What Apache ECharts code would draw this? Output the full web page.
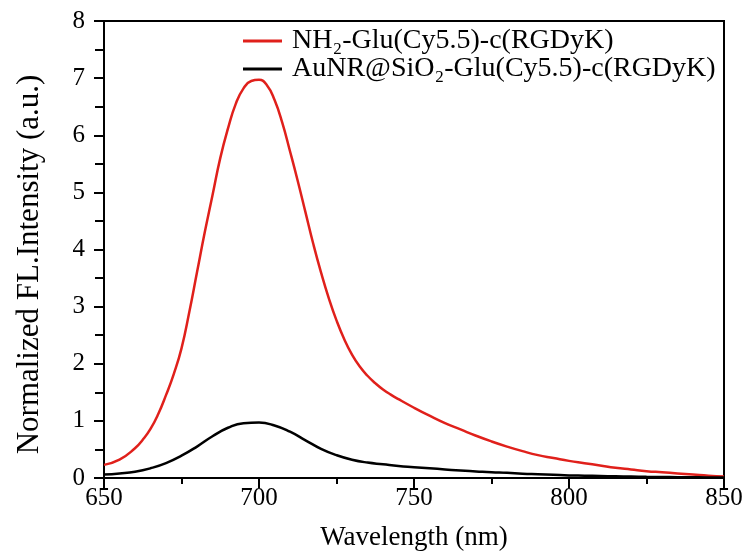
<!DOCTYPE html>
<html>
<head>
<meta charset="utf-8">
<script src="https://cdn.jsdelivr.net/npm/echarts@6/dist/echarts.min.js"></script>
<style>html,body{margin:0;padding:0;background:#fff}#c{width:743px;height:556px}</style>
</head>
<body>
<div id="c"></div>
<script>
const redWavelengths = [650,655,660,662.5,665,667.5,670,672.5,675,677.5,680,682.5,685,687.5,690,692.5,695,697.5,700,702.5,705,707.5,710,712.5,715,717.5,720,722.5,725,727.5,730,732.5,735,737.5,740,742.5,745,750,755,760,765,770,775,780,785,790,795,800,805,810,815,820,825,830,835,840,845,850];
const freeProbe = [0.23,0.32,0.52,0.67,0.86,1.12,1.45,1.82,2.27,2.9,3.6,4.3,4.95,5.6,6.12,6.55,6.82,6.95,6.97,6.88,6.62,6.22,5.72,5.2,4.65,4.1,3.6,3.15,2.76,2.43,2.16,1.95,1.79,1.66,1.55,1.46,1.38,1.23,1.09,0.96,0.85,0.74,0.64,0.55,0.47,0.4,0.35,0.3,0.26,0.22,0.18,0.15,0.12,0.1,0.08,0.06,0.04,0.025];
const blackWavelengths = [650,655,660,665,670,675,680,685,690,695,700,705,710,715,720,725,730,735,740,745,750,755,760,765,770,775,780,785,790,795,800,805,810,815,820,825,830,835,840,845,850];
const auNrProbe = [0.06,0.08,0.11,0.17,0.26,0.39,0.55,0.73,0.88,0.96,0.97,0.92,0.81,0.66,0.51,0.4,0.32,0.27,0.24,0.21,0.19,0.17,0.15,0.13,0.115,0.1,0.09,0.075,0.065,0.055,0.045,0.04,0.035,0.03,0.025,0.02,0.018,0.015,0.012,0.01,0.01];
const seriesNames = ['NH\u2082-Glu(Cy5.5)-c(RGDyK)', 'AuNR@SiO\u2082-Glu(Cy5.5)-c(RGDyK)'];
const font = 'Liberation Serif';
const chart = echarts.init(document.getElementById('c'));
chart.setOption({
  animation: false,
  backgroundColor: '#fff',
  grid: { left: 104, right: 19, top: 21, bottom: 78, outerBoundsMode: 'none', containLabel: false, show: true, borderColor: '#000', borderWidth: 2, backgroundColor: 'transparent' },
  legend: {
    orient: 'vertical', left: 243, top: 27, padding: 0, itemWidth: 39, itemHeight: 3, itemGap: 0,
    icon: 'rect',
    textStyle: { fontFamily: font, fontSize: 28, lineHeight: 24, color: '#000', padding: [0, 0, 0, 5] },
    data: seriesNames
  },
  xAxis: {
    type: 'value', min: 650, max: 850, interval: 50,
    name: 'Wavelength (nm)', nameLocation: 'middle', nameGap: 46,
    nameTextStyle: { fontFamily: font, fontSize: 27, color: '#000' },
    axisLine: { show: true, lineStyle: { color: '#000', width: 2 } },
    axisTick: { show: true, length: 10, lineStyle: { color: '#000', width: 2 } },
    minorTick: { show: true, splitNumber: 2, length: 6, lineStyle: { color: '#000', width: 2 } },
    splitLine: { show: false },
    axisLabel: { fontFamily: font, fontSize: 25, color: '#000', margin: 8 }
  },
  yAxis: {
    type: 'value', min: 0, max: 8, interval: 1,
    name: 'Normalized FL.Intensity (a.u.)', nameLocation: 'middle', nameGap: 59,
    nameTextStyle: { fontFamily: font, fontSize: 31, color: '#000', padding: [0, 30, 0, 0] },
    axisLine: { show: true, lineStyle: { color: '#000', width: 2 } },
    axisTick: { show: true, length: 10, lineStyle: { color: '#000', width: 2 } },
    minorTick: { show: true, splitNumber: 2, length: 9, lineStyle: { color: '#000', width: 2 } },
    splitLine: { show: false },
    axisLabel: { fontFamily: font, fontSize: 25, color: '#000', margin: 19 }
  },
  series: [
    { name: seriesNames[0], type: 'line', smooth: true, symbol: 'none', data: redWavelengths.map((w, i) => [w, freeProbe[i]]), lineStyle: { color: '#e0201b', width: 2.5 }, itemStyle: { color: '#e0201b' } },
    { name: seriesNames[1], type: 'line', smooth: true, symbol: 'none', data: blackWavelengths.map((w, i) => [w, auNrProbe[i]]), lineStyle: { color: '#000', width: 2.5 }, itemStyle: { color: '#000' } }
  ]
});
</script>
</body>
</html>
